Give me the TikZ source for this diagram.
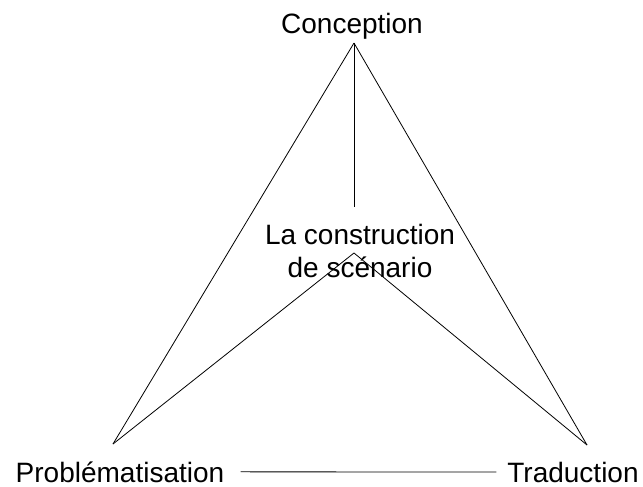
\documentclass[tikz,border=0pt]{standalone}
\usepackage{fontspec}
\setmainfont{Liberation Sans}
\usetikzlibrary{positioning}
\tikzstyle{pole} = [
    inner sep=0pt, anchor=base, text=black,
    font=\fontsize{21}{24.75}\selectfont
]
\tikzstyle{edge} = [line width=0.6pt, color=black]

\begin{document}
\begin{tikzpicture}[x=0.75pt, y=-0.75pt]
    \useasboundingbox (0,0) rectangle (643,486);

    % Poles
    \node[pole] (conc) at (352,33) {Conception};
    \node[pole, align=center] (scen) at (360,277) {La construction\\de scénario};
    \node[pole] (prob) at (120,482) {Problématisation};
    \node[pole] (trad) at (573,482) {Traduction};

    % Corners of the triangle
    \coordinate (top) at (354,43);
    \coordinate (left) at (113,444);
    \coordinate (right) at (587,445);
    \coordinate (inner) at (354,253);
    \coordinate (stem) at (354,207);

    % Outer sides
    \draw[edge] (top) -- (left);
    \draw[edge] (top) -- (right);
    \draw[edge] (top) -- (stem);

    % Inner sides
    \draw[edge] (left) -- (inner);
    \draw[edge] (inner) -- (right);

    % Base
    \draw[edge, shorten <=12pt, shorten >=8pt] (prob.east) -- (trad.west);

\end{tikzpicture}
\end{document}
